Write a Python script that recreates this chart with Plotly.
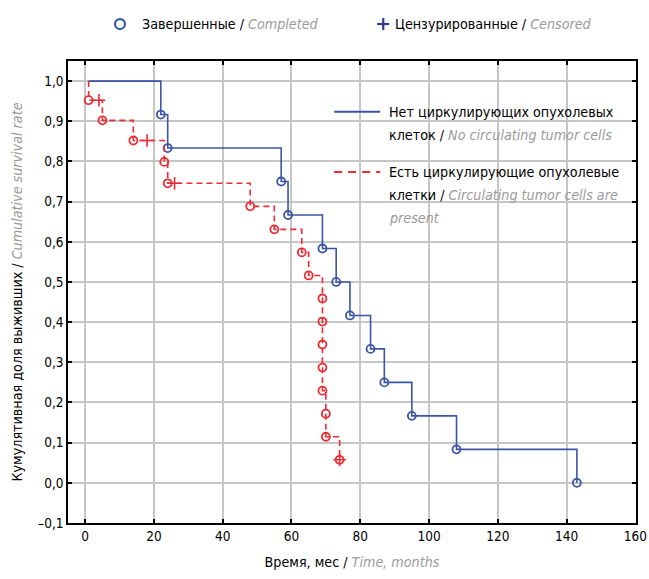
import plotly.graph_objects as go

# ---------------- data ----------------
START_TIME = 1
blue_event_times = [22, 24, 57, 59, 69, 73, 77, 83, 87, 95, 108, 143]
blue_censor_times = []
red_event_times = [1, 5, 14, 23, 24, 48, 55, 63, 65, 69, 69, 69, 69, 69, 70, 70, 74]
red_censor_times = [4, 18, 26, 74]

x_ticks = [0, 20, 40, 60, 80, 100, 120, 140, 160]
y_ticks = [-0.1, 0.0, 0.1, 0.2, 0.3, 0.4, 0.5, 0.6, 0.7, 0.8, 0.9, 1.0]
y_ticktext = ["–0,1", "0,0", "0,1", "0,2", "0,3", "0,4", "0,5", "0,6", "0,7", "0,8", "0,9", "1,0"]

BLUE = "#3b55a6"
RED = "#ee2a33"
NAVY = "#2e3a8c"
GRAY = "#9a9a9a"
FONT = "DejaVu Sans Condensed, Liberation Sans Narrow, sans-serif"
TXT = 14.2


def km(events, censors):
    subjects = sorted([(t, 0) for t in events] + [(t, 1) for t in censors])
    n = len(subjects)
    s = 1.0
    xs, ys = [START_TIME], [1.0]
    ex, ey, cx, cy = [], [], [], []
    for t, c in subjects:
        if c == 0:
            s *= (n - 1) / n
            xs.append(t); ys.append(s)
            ex.append(t); ey.append(s)
        else:
            cx.append(t); cy.append(s)
        n -= 1
    return xs, ys, ex, ey, cx, cy


fig = go.Figure()

for ev, ce, col, dash in [(blue_event_times, blue_censor_times, BLUE, "solid"),
                          (red_event_times, red_censor_times, RED, "6px,4px")]:
    xs, ys, ex, ey, cx, cy = km(ev, ce)
    fig.add_trace(go.Scatter(x=xs, y=ys, mode="lines", line=dict(color=col, width=1.6, dash=dash, shape="hv"),
                             showlegend=False, hoverinfo="skip"))
    fig.add_trace(go.Scatter(x=ex, y=ey, mode="markers",
                             marker=dict(symbol="circle-open", size=8, color=col, line=dict(width=1.8, color=col)),
                             showlegend=False))
    if cx:
        fig.add_trace(go.Scatter(x=cx, y=cy, mode="markers",
                                 marker=dict(symbol="cross-thin-open", size=9, color=col, line=dict(width=1.6, color=col)),
                                 showlegend=False))

shapes = []
annotations = []

# right-hand legend (data coords)
shapes.append(dict(type="line", xref="x", yref="y", x0=72.4, x1=85.8, y0=0.9235, y1=0.9235,
                   line=dict(color=BLUE, width=2)))
shapes.append(dict(type="line", xref="x", yref="y", x0=72.4, x1=85.8, y0=0.774, y1=0.774,
                   line=dict(color=RED, width=2, dash="8px,6px")))
leg_lines = [
    (0.9235, "Нет циркулирующих опухолевых"),
    (0.8655, f"клеток / <i><span style='color:{GRAY}'>No circulating tumor cells</span></i>"),
    (0.774, "Есть циркулирующие опухолевые"),
    (0.7155, f"клетки / <i><span style='color:{GRAY}'>Circulating tumor cells are</span></i>"),
    (0.659, f"<i><span style='color:{GRAY}'>present</span></i>"),
]
for yv, txt in leg_lines:
    annotations.append(dict(xref="x", yref="y", x=87.8, y=yv, text=txt, showarrow=False,
                            xanchor="left", yanchor="middle", font=dict(size=TXT, color="black", family=FONT)))

# top legend (paper coords)
shapes.append(dict(type="circle", xref="paper", yref="paper", xsizemode="pixel", ysizemode="pixel",
                   xanchor=0.0915, yanchor=1.080, x0=-5, x1=5, y0=-5, y1=5,
                   line=dict(color=BLUE, width=2.2)))
shapes.append(dict(type="line", xref="paper", yref="paper", xsizemode="pixel", ysizemode="pixel",
                   xanchor=0.555, yanchor=1.080, x0=-6, x1=6, y0=0, y1=0, line=dict(color=NAVY, width=2.2)))
shapes.append(dict(type="line", xref="paper", yref="paper", xsizemode="pixel", ysizemode="pixel",
                   xanchor=0.555, yanchor=1.080, x0=0, x1=0, y0=-6, y1=6, line=dict(color=NAVY, width=2.2)))
annotations.append(dict(xref="paper", yref="paper", x=0.127, y=1.080, showarrow=False, xanchor="left", yanchor="middle",
                        text=f"Завершенные / <i><span style='color:{GRAY}'>Completed</span></i>",
                        font=dict(size=TXT, color="black", family=FONT)))
annotations.append(dict(xref="paper", yref="paper", x=0.572, y=1.080, showarrow=False, xanchor="left", yanchor="middle",
                        text=f"Цензурированные / <i><span style='color:{GRAY}'>Censored</span></i>",
                        font=dict(size=TXT, color="black", family=FONT)))

axis_common = dict(showline=True, linecolor="black", linewidth=1.6, mirror="ticks", ticks="inside",
                   ticklen=4, tickwidth=1.6, tickcolor="black", showgrid=True, gridcolor="#c6c6c6",
                   gridwidth=1.5, zeroline=False, automargin=False,
                   tickfont=dict(size=13.5, color="black", family=FONT))

fig.update_layout(
    width=649, height=579,
    margin=dict(l=68, r=13, t=61, b=56, autoexpand=False),
    paper_bgcolor="white", plot_bgcolor="white",
    font=dict(family=FONT, size=TXT, color="black"),
    shapes=shapes, annotations=annotations,
    xaxis=dict(range=[-5, 160.2], tickvals=x_ticks, ticktext=[str(v) for v in x_ticks],
               ticklabeloverflow="allow",
               title=dict(text=f"Время, мес / <i><span style='color:{GRAY}'>Time, months</span></i>",
                          font=dict(size=TXT, family=FONT), standoff=14),
               **axis_common),
    yaxis=dict(range=[-0.1, 1.05], tickvals=y_ticks, ticktext=y_ticktext,
               title=dict(text=f"Кумулятивная доля выживших / <i><span style='color:{GRAY}'>Cumulative survival rate</span></i>",
                          font=dict(size=TXT, family=FONT), standoff=12),
               **axis_common),
)

fig.write_html("out.html")
